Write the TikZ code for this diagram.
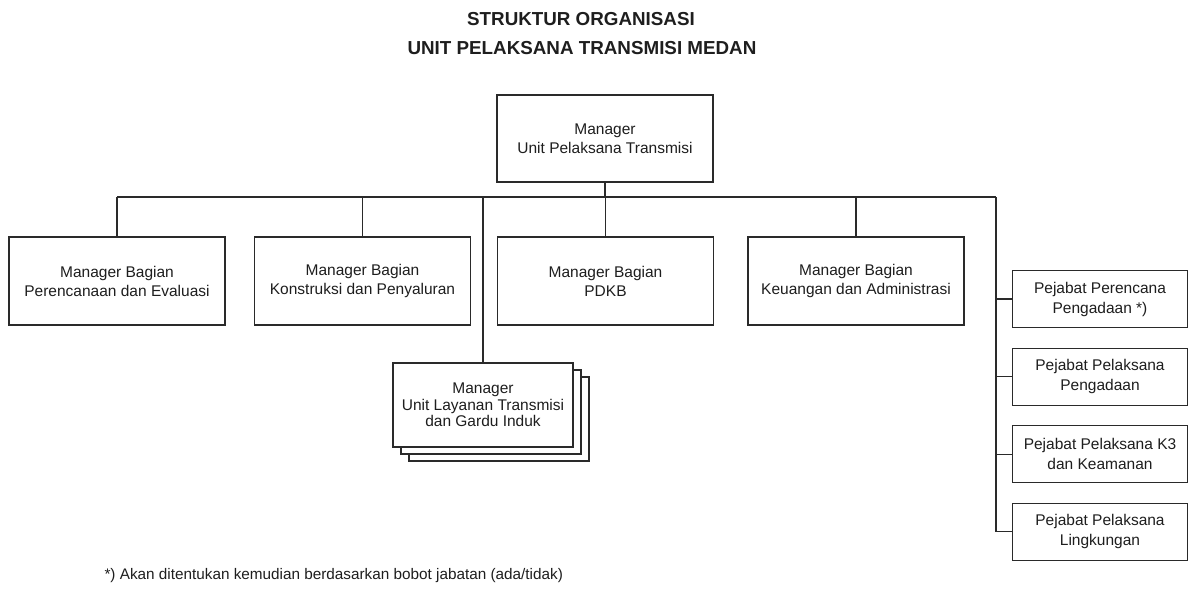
\documentclass[tikz,border=0pt]{standalone}
\usepackage{fontspec}
\setmainfont{Liberation Sans}
\usepackage{tikz}
\usetikzlibrary{positioning,shadows}
\definecolor{ink}{HTML}{1E1E1E}
\definecolor{line}{HTML}{2A2A2A}
\tikzset{
  headtext/.style={font=\fontsize{18.8}{22}\selectfont\bfseries, text=ink},
  mgrbox/.style={
    rectangle, draw=line, fill=white, line width=1.1pt,
    minimum width=216pt, minimum height=88pt,
    font=\fontsize{15.5}{19}\selectfont, text=ink, align=center,
    inner sep=3pt
  },
  stackbox/.style={
    mgrbox, minimum width=180pt, minimum height=84pt,
    font=\fontsize{15.5}{16.5}\selectfont,
    double copy shadow={shadow xshift=8pt, shadow yshift=-7pt,
      draw=line, fill=white, line width=1.1pt}
  },
  pjbbox/.style={
    rectangle, draw=line, fill=white, line width=1.1pt,
    minimum width=175pt, minimum height=57pt,
    font=\fontsize{15.5}{20}\selectfont, text=ink, align=center,
    inner sep=3pt
  },
  link/.style={draw=line, line width=1.1pt},
  notetext/.style={font=\fontsize{15.3}{18}\selectfont, text=ink}
}

\begin{document}
\begin{tikzpicture}[x=1pt, y=-1pt]
  \useasboundingbox (0,0) rectangle (1194,595);
  % heading
  \node[headtext] (head1) at (581,19) {STRUKTUR ORGANISASI};
  \node[headtext] (head2) at (582,48) {UNIT PELAKSANA TRANSMISI MEDAN};

  % manager unit
  \node[mgrbox, minimum height=87pt] (top) at (605,138.5) {Manager\\Unit Pelaksana Transmisi};

  % bagian
  \node[mgrbox] (pe)   at (117,281)   {Manager Bagian\\Perencanaan dan Evaluasi};
  \node[mgrbox] (kp)   at (362.5,281) {Manager Bagian\\Konstruksi dan Penyaluran};
  \node[mgrbox] (pdkb) at (605.5,281) {Manager Bagian\\PDKB};
  \node[mgrbox] (ka)   at (856,281)   {Manager Bagian\\Keuangan dan Administrasi};
  \node[stackbox] (ult) at (483,405) {Manager\\Unit Layanan Transmisi\\dan Gardu Induk};

  % pejabat
  \node[pjbbox] (pj1) at (1100,299) {Pejabat Perencana\\Pengadaan *)};
  \node[pjbbox, below=19.5pt of pj1] (pj2) {Pejabat Pelaksana\\Pengadaan};
  \node[pjbbox, below=19.5pt of pj2] (pj3) {Pejabat Pelaksana K3\\dan Keamanan};
  \node[pjbbox, below=19.5pt of pj3] (pj4) {Pejabat Pelaksana\\Lingkungan};

  % connectors
  \coordinate (bus) at (0,197);
  \coordinate (rail) at (996,197);
  \draw[link] (top.south) -- (top.south |- bus);
  \draw[link] (pe.north |- bus) -- (rail);
  \foreach \n in {pe,kp,pdkb,ka,ult}
    \draw[link] (\n.north |- bus) -- (\n.north);
  \draw[link] (rail) |- (pj4.west);
  \foreach \n in {pj1,pj2,pj3}
    \draw[link] (rail |- \n.west) -- (\n.west);

  % footnote
  \node[notetext, anchor=west] (note) at (101,576) {*) Akan ditentukan kemudian berdasarkan bobot jabatan (ada/tidak)};
\end{tikzpicture}
\end{document}
